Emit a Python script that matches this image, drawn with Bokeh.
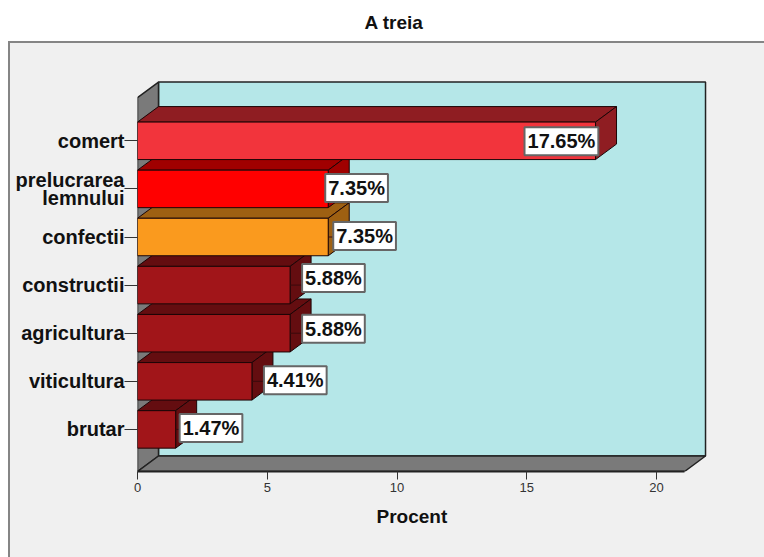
from bokeh.embed import file_html
from bokeh.resources import INLINE
from bokeh.plotting import figure
from bokeh.models import FixedTicker, Range1d, Title
from bokeh.core.properties import value

TITLE = "A treia"
AXIS_TITLE = "Procent"
categories = ["brutar", "viticultura", "agricultura", "constructii", "confectii", "prelucrarea\nlemnului", "comert"]
percents = [1.47, 4.41, 5.88, 5.88, 7.35, 7.35, 17.65]
percent_labels = ["1.47%", "4.41%", "5.88%", "5.88%", "7.35%", "7.35%", "17.65%"]
x_ticks = [0, 5, 10, 15, 20]

front_colors = ["#a11519", "#a11519", "#a11519", "#a11519", "#fa9a1e", "#ff0000", "#f2343c"]
shade_colors = ["#640d10", "#640d10", "#640d10", "#640d10", "#9e6012", "#a00000", "#8f1d22"]

W, H = 764, 557
LEFT, BOTTOM, TOP = 137, 86, 41
PX_X, PX_Y = 25.95, 48.1
AX_MAX = 21.08
DX, DY = 21 / PX_X, 15.5 / PX_Y
HALF = 37.5 / PX_Y / 2
Y0, Y1 = -0.875, 6.9

p = figure(width=W, height=H, output_backend="svg", toolbar_location=None,
           x_range=Range1d(0, (W - LEFT) / PX_X),
           y_range=Range1d(Y0, Y0 + (H - BOTTOM - TOP) / PX_Y),
           min_border_left=LEFT, min_border_right=0, min_border_top=TOP, min_border_bottom=BOTTOM,
           border_fill_color=None, background_fill_color=None, outline_line_color=None,
           title=TITLE)
p.grid.visible = False

# grey chart area with its border, behind the transparent canvas
p.styles = {
    "background-color": "#ffffff",
    "background-image": "linear-gradient(#f0f0f0,#f0f0f0),linear-gradient(#858585,#858585)",
    "background-position": "10px 43px,8px 41px",
    "background-size": "100% 100%,100% 100%",
    "background-repeat": "no-repeat,no-repeat",
}

p.title.text_font = "Liberation Sans"
p.title.text_font_size = "19px"
p.title.text_font_style = "bold"
p.title.text_color = "#111111"
p.title.align = "left"
p.title.offset = 227
p.title.standoff = 18

# walls
p.patch([DX, AX_MAX + DX, AX_MAX + DX, DX], [Y0 + DY, Y0 + DY, Y1 + DY, Y1 + DY],
        fill_color="#b5e7e8", line_color="#222222", line_width=1.5)
p.patch([0, DX, DX, 0], [Y0, Y0 + DY, Y1 + DY, Y1], fill_color="#7a7a7a", line_color="#222222", line_width=1.5)
p.patch([0, AX_MAX, AX_MAX + DX, DX], [Y0, Y0, Y0 + DY, Y0 + DY], fill_color="#7a7a7a", line_color="#222222", line_width=1.5)

# bars, nearest last
ys = list(range(len(percents)))
for i, v in enumerate(percents):
    y = ys[i]
    p.patch([0, v, v + DX, DX], [y + HALF, y + HALF, y + HALF + DY, y + HALF + DY],
            fill_color=shade_colors[i], line_color="#1c0506", line_width=1)
    p.patch([v, v + DX, v + DX, v], [y - HALF, y - HALF + DY, y + HALF + DY, y + HALF],
            fill_color=shade_colors[i], line_color="#1c0506", line_width=1)
    p.patch([0, v, v, 0], [y - HALF, y - HALF, y + HALF, y + HALF],
            fill_color=front_colors[i], line_color="#1c0506", line_width=1)

# value labels: gap (px) from bar end to box, and rise (px) above the bar centre
label_gaps = [4, 12, 12, 12, 5, -3, -71]
label_rises = [1.5, 1, 4.5, 7, 1, 1, -0.5]
leader_x1 = [v + max(g, 0) / PX_X for v, g in zip(percents, label_gaps)]
p.segment(percents, ys, leader_x1, ys, line_color="#3a0a0c", line_width=1)
p.text(x=percents, y=ys, text=percent_labels,
       x_offset=label_gaps, y_offset=[-r for r in label_rises],
       text_font=value("Liberation Sans"), text_font_style="bold", text_font_size="20px",
       text_color="#111111", text_align="left", text_baseline="middle",
       padding=3, background_fill_color="#ffffff", border_line_color="#666666", border_line_width=2)

# axes
xa = p.xaxis[0]
xa.ticker = FixedTicker(ticks=x_ticks)
xa.bounds = (0, AX_MAX)
xa.major_label_text_font = "Liberation Sans"
xa.major_label_text_font_size = "13px"
xa.major_label_text_color = "#333333"
xa.major_label_standoff = 3
xa.major_tick_out = 8
xa.major_tick_in = 0
xa.minor_tick_line_color = None
xa.major_tick_line_color = "#333333"
xa.axis_line_color = "#222222"
xa.axis_line_width = 2

p.add_layout(Title(text=AXIS_TITLE, align="left", offset=239, standoff=18,
                   text_font="Liberation Sans", text_font_size="19px", text_font_style="bold",
                   text_color="#111111"), "below")

ya = p.yaxis[0]
ya.ticker = FixedTicker(ticks=ys)
ya.major_label_overrides = {i: c for i, c in zip(ys, categories)}
ya.major_label_text_font = "Liberation Sans"
ya.major_label_text_font_size = "20px"
ya.major_label_text_font_style = "bold"
ya.major_label_text_color = "#111111"
ya.major_label_text_line_height = 0.85
ya.major_label_standoff = 0
ya.major_tick_out = 13
ya.major_tick_in = 0
ya.major_tick_line_color = "#333333"
ya.minor_tick_line_color = None
ya.axis_line_color = None

open("out.html", "w").write(file_html(p, INLINE))
